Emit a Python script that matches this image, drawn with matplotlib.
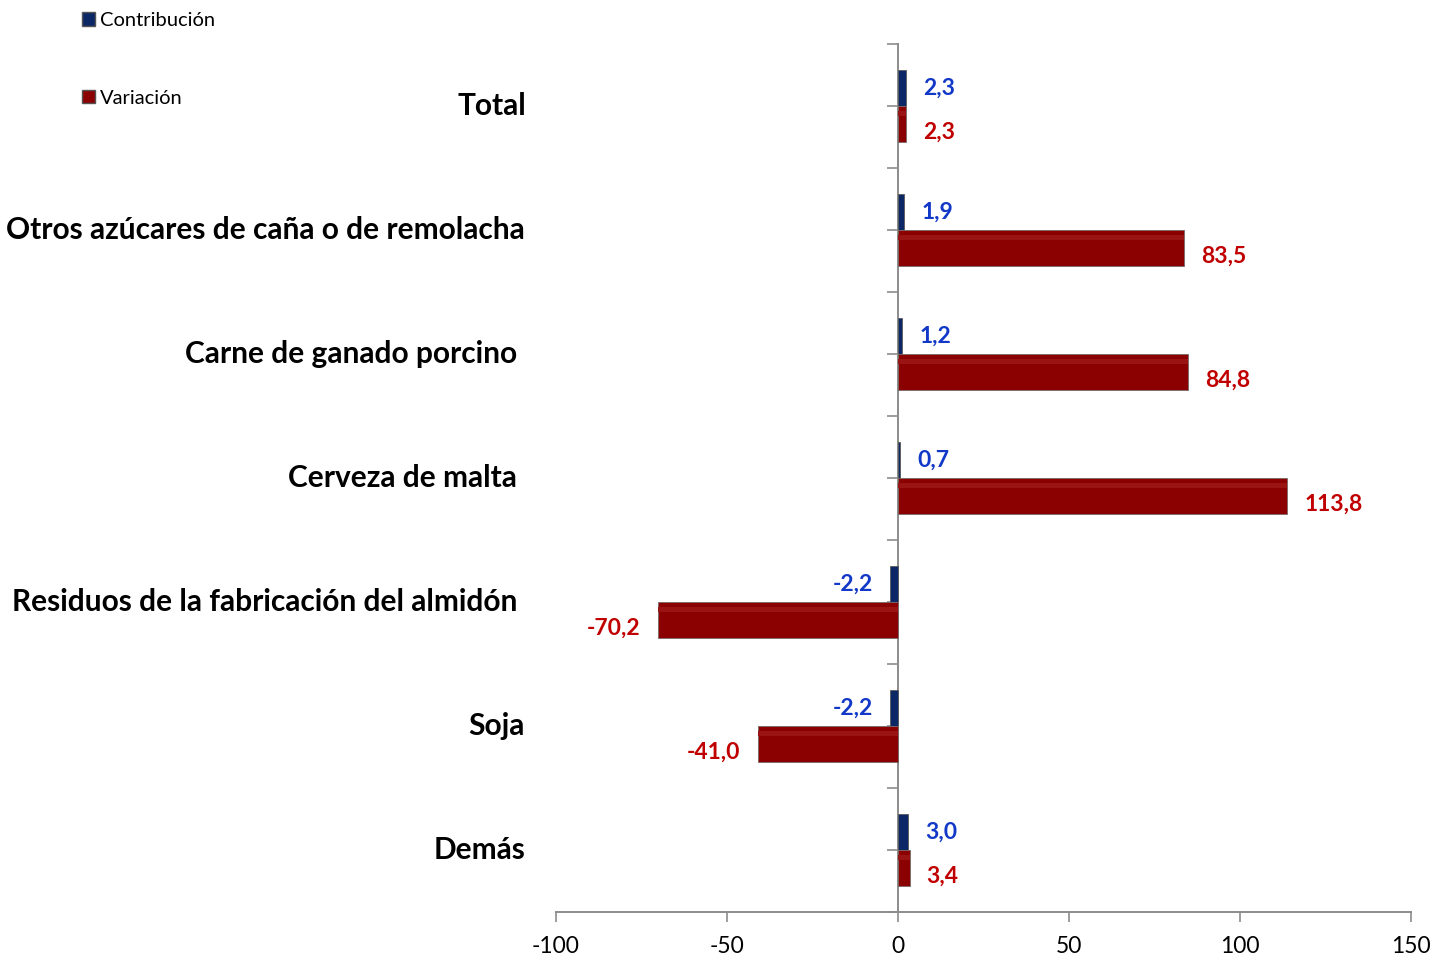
import matplotlib.pyplot as plt
import matplotlib.transforms as mtransforms
from matplotlib.patches import Patch
import numpy as np

categories = ["Total", "Otros azúcares de caña o de remolacha", "Carne de ganado porcino",
              "Cerveza de malta", "Residuos de la fabricación del almidón", "Soja", "Demás"]
contribucion = [2.3, 1.9, 1.2, 0.7, -2.2, -2.2, 3.0]
variacion = [2.3, 83.5, 84.8, 113.8, -70.2, -41.0, 3.4]

navy = "#0c2766"
darkred = "#8b0000"
blue_txt = "#1238c8"
red_txt = "#c00000"
grey = "#8c8c8c"

fig = plt.figure(figsize=(14.37, 9.58), dpi=100)
ax = fig.add_axes([556 / 1437, 1 - 912 / 958, (1411 - 556) / 1437, (912 - 44) / 958])

y = np.arange(len(categories))
h = 0.29
ax.barh(y - h / 2, contribucion, height=h, color=navy, edgecolor="#5a5a5a", linewidth=0.6, zorder=3)
ax.barh(y + h / 2, variacion, height=h, color=darkred, edgecolor="#7a6a6a", linewidth=0.6, zorder=3)
# faint highlight along the top of each red bar, like the bevel in the original
ax.barh(y + h / 2 - h * 0.28, variacion, height=h * 0.14, color="#9a1414", linewidth=0, zorder=4)

ax.set_xlim(-100, 150)
ax.set_ylim(len(categories) - 0.5, -0.5)
ax.set_xticks([-100, -50, 0, 50, 100, 150])
ax.set_xticklabels(["-100", "-50", "0", "50", "100", "150"], fontsize=16.5, family="Lato")
ax.set_yticks(np.arange(-0.5, len(categories), 0.5))
ax.set_yticklabels([])
ax.tick_params(axis="y", direction="out", length=8, color=grey, width=1.2)
ax.tick_params(axis="x", direction="out", length=7, color=grey, width=1.2, pad=10)

ax.spines["left"].set_position(("data", 0))
ax.spines["left"].set_color(grey)
ax.spines["left"].set_linewidth(1.4)
ax.spines["bottom"].set_color(grey)
ax.spines["bottom"].set_linewidth(1.4)
ax.spines["top"].set_visible(False)
ax.spines["right"].set_visible(False)

def fmt(v):
    return ("%.1f" % v).replace(".", ",")

off = 5
for i in range(len(categories)):
    c = contribucion[i]
    v = variacion[i]
    ax.text(c + (off if c >= 0 else -off), y[i] - h / 2, fmt(c), color=blue_txt,
            fontsize=16.5, fontweight="bold", family="Lato", va="center",
            ha="left" if c >= 0 else "right")
    ax.text(v + (off if v >= 0 else -off), y[i] + h / 2 + 0.07, fmt(v), color=red_txt,
            fontsize=16.5, fontweight="bold", family="Lato", va="center",
            ha="left" if v >= 0 else "right")

# category names sit well left of the zero axis
trans = mtransforms.blended_transform_factory(fig.transFigure, ax.transData)
label_x = [526, 525, 517, 517, 517, 525, 526]
for i, name in enumerate(categories):
    ax.text(label_x[i] / 1437, y[i], name, transform=trans, ha="right", va="center",
            fontsize=21.5, fontweight="bold", family="Lato", clip_on=False)

handles = [Patch(facecolor=navy, edgecolor="#555555", label="Contribución"),
           Patch(facecolor=darkred, edgecolor="#555555", label="Variación")]
fig.legend(handles=handles, loc="upper left", bbox_to_anchor=(64 / 1437, 1 + 6 / 958),
           frameon=False, labelspacing=3.0, handlelength=0.65, handleheight=0.65,
           handletextpad=0.25, prop={"family": "Lato", "size": 14.5})

plt.savefig("out.png", dpi=100)
